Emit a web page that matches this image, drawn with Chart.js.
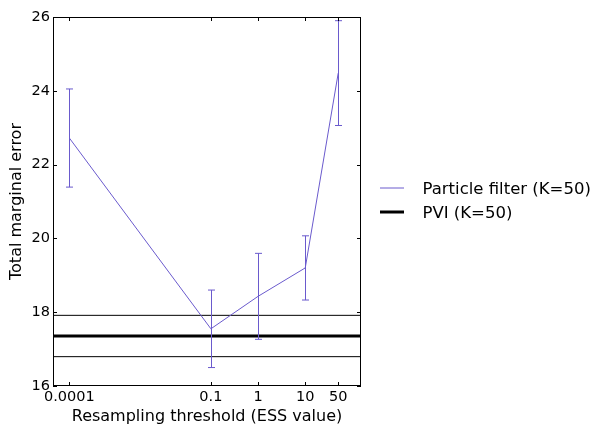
<!DOCTYPE html>
<html>
<head>
<meta charset="utf-8">
<script src="https://cdn.jsdelivr.net/npm/chart.js@4/dist/chart.umd.min.js"></script>
<style>
  html, body { margin: 0; padding: 0; background: #fff; }
  canvas { display: block; }
</style>
</head>
<body>
<canvas id="chart" width="595" height="425"></canvas>
<script>
// resampling thresholds (ESS value) and tick labels
var thresholds = [0.0001, 0.1, 1, 10, 50];
var xTickLabels = ['0.0001', '0.1', '1', '10', '50'];
var yTicks = [16, 18, 20, 22, 24, 26];

// particle filter mean and error bar half-size
var pfMean = [22.72, 17.55, 18.43, 19.20, 24.48];
var pfErr = [1.33, 1.05, 1.165, 0.87, 1.42];

// PVI mean and band
var pviMean = 17.355;
var pviErr = 0.56;

var xMin = 4.5e-5;
var xMax = 152;

var pfColor = '#6a5acd';
var fontFamily = "'DejaVu Sans', sans-serif";

function pointsOf(xs, ys) {
  var out = [];
  for (var i = 0; i < xs.length; i++) {
    out.push({x: xs[i], y: ys[i]});
  }
  return out;
}

function flatLine(y) {
  return [{x: xMin, y: y}, {x: xMax, y: y}];
}

// error bars, inside ticks, frame and legend
var extrasPlugin = {
  id: 'extras',
  afterDatasetsDraw: function(chart) {
    var ctx = chart.ctx;
    var xs = chart.scales.x;
    var ys = chart.scales.y;
    var area = chart.chartArea;

    ctx.save();
    // error bars
    ctx.strokeStyle = pfColor;
    ctx.lineWidth = 1;
    for (var i = 0; i < thresholds.length; i++) {
      var px = Math.round(xs.getPixelForValue(thresholds[i])) + 0.5;
      var top = ys.getPixelForValue(pfMean[i] + pfErr[i]);
      var bot = ys.getPixelForValue(pfMean[i] - pfErr[i]);
      ctx.beginPath();
      ctx.moveTo(px, top);
      ctx.lineTo(px, bot);
      ctx.moveTo(px - 3.5, top);
      ctx.lineTo(px + 3.5, top);
      ctx.moveTo(px - 3.5, bot);
      ctx.lineTo(px + 3.5, bot);
      ctx.stroke();
    }

    // frame
    ctx.strokeStyle = '#000';
    ctx.lineWidth = 1;
    ctx.strokeRect(area.left + 0.5, area.top + 0.5, area.right - area.left - 1, area.bottom - area.top - 1);

    // ticks pointing inward
    var tl = 4;
    ctx.beginPath();
    xs.ticks.forEach(function(t) {
      var px = Math.round(xs.getPixelForValue(t.value)) + 0.5;
      ctx.moveTo(px, area.bottom);
      ctx.lineTo(px, area.bottom - tl);
      ctx.moveTo(px, area.top);
      ctx.lineTo(px, area.top + tl);
    });
    ys.ticks.forEach(function(t) {
      var py = Math.round(ys.getPixelForValue(t.value)) + 0.5;
      ctx.moveTo(area.left, py);
      ctx.lineTo(area.left + tl, py);
      ctx.moveTo(area.right, py);
      ctx.lineTo(area.right - tl, py);
    });
    ctx.stroke();

    // legend
    var items = [
      {label: chart.data.datasets[0].label, color: pfColor, width: 1, y: 188},
      {label: chart.data.datasets[1].label, color: '#000', width: 3, y: 212}
    ];
    ctx.font = '16.5px ' + fontFamily;
    ctx.textBaseline = 'alphabetic';
    ctx.textAlign = 'left';
    items.forEach(function(it) {
      ctx.strokeStyle = it.color;
      ctx.lineWidth = it.width;
      ctx.beginPath();
      ctx.moveTo(380, it.y);
      ctx.lineTo(404, it.y);
      ctx.stroke();
      ctx.fillStyle = '#000';
      ctx.fillText(it.label, 422.5, it.y + 6);
    });
    ctx.restore();
  }
};

var ctx = document.getElementById('chart').getContext('2d');

var chart = new Chart(ctx, {
  type: 'line',
  data: {
    datasets: [
      {
        label: 'Particle filter (K=50)',
        data: pointsOf(thresholds, pfMean),
        borderColor: pfColor,
        borderWidth: 1,
        pointRadius: 0,
        tension: 0
      },
      {
        label: 'PVI (K=50)',
        data: flatLine(pviMean),
        borderColor: '#000',
        borderWidth: 3,
        pointRadius: 0
      },
      {
        label: 'PVI upper',
        data: flatLine(pviMean + pviErr),
        borderColor: '#000',
        borderWidth: 1,
        pointRadius: 0
      },
      {
        label: 'PVI lower',
        data: flatLine(pviMean - pviErr),
        borderColor: '#000',
        borderWidth: 1,
        pointRadius: 0
      }
    ]
  },
  options: {
    responsive: false,
    animation: false,
    layout: {
      padding: {top: 17, right: 234, left: 0, bottom: 0}
    },
    plugins: {
      legend: {display: false},
      tooltip: {enabled: false}
    },
    scales: {
      x: {
        type: 'logarithmic',
        min: xMin,
        max: xMax,
        afterBuildTicks: function(scale) {
          scale.ticks = thresholds.map(function(v) { return {value: v}; });
        },
        afterFit: function(scale) {
          scale.height = 39;
        },
        grid: {display: false, drawTicks: false},
        border: {display: false},
        ticks: {
          autoSkip: false,
          maxRotation: 0,
          padding: 3,
          color: '#000',
          font: {family: fontFamily, size: 14.5},
          callback: function(value, index) {
            return xTickLabels[index];
          }
        },
        title: {
          display: true,
          text: 'Resampling threshold (ESS value)',
          color: '#000',
          font: {family: fontFamily, size: 16},
          padding: {top: 0, bottom: -1.5}
        }
      },
      y: {
        type: 'linear',
        min: 16,
        max: 26,
        afterBuildTicks: function(scale) {
          scale.ticks = yTicks.map(function(v) { return {value: v}; });
        },
        afterFit: function(scale) {
          scale.width = 53;
        },
        grid: {display: false, drawTicks: false},
        border: {display: false},
        ticks: {
          padding: 3,
          color: '#000',
          font: {family: fontFamily, size: 14.5}
        },
        title: {
          display: true,
          text: 'Total marginal error',
          color: '#000',
          font: {family: fontFamily, size: 16},
          padding: {top: 7, bottom: 0}
        }
      }
    }
  },
  plugins: [extrasPlugin]
});
</script>
</body>
</html>
